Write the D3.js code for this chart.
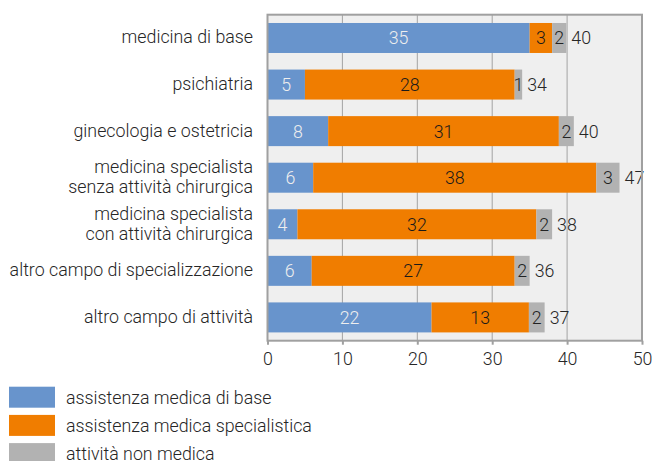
<!DOCTYPE html>
<html>
<head>
<meta charset="utf-8">
<script src="https://cdn.jsdelivr.net/npm/d3@7"></script>
<style>
  body { margin: 0; background: #fff; }
  svg { display: block; font-family: Roboto, "Noto Sans", sans-serif; font-weight: 300; }
</style>
</head>
<body>
<svg id="chart"></svg>
<script>
// categories, top to bottom (each entry = lines of the label)
const categories = [
  ["medicina di base"],
  ["psichiatria"],
  ["ginecologia e ostetricia"],
  ["medicina specialista", "senza attività chirurgica"],
  ["medicina specialista", "con attività chirurgica"],
  ["altro campo di specializzazione"],
  ["altro campo di attività"]
];
const seriesNames = ["assistenza medica di base", "assistenza medica specialistica", "attività non medica"];

// segment lengths
const base = [35.0, 5.0, 8.1, 6.1, 4.0, 5.9, 21.9];
const special = [3.0, 28.0, 30.8, 37.8, 31.9, 27.1, 13.0];
const nonMed = [1.9, 1.0, 2.0, 3.1, 2.1, 2.0, 2.1];

// printed (rounded) labels
const baseLbl = [35, 5, 8, 6, 4, 6, 22];
const specialLbl = [3, 28, 31, 38, 32, 27, 13];
const nonMedLbl = [2, 1, 2, 3, 2, 2, 2];
const totals = [40, 34, 40, 47, 38, 36, 37];

const xTicks = [0, 10, 20, 30, 40, 50];

const w = 652, h = 461;
const m = {left: 267.5, right: 10, top: 14.7, bottom: 120.3};
const colors = ["#6894cc", "#f07d00", "#b2b2b2"];
const txtCols = ["#eeeeee", "#1a1a1a", "#222222"];
const fs = 17.8;
const ink = "#262626";

const svg = d3.select("#chart").attr("width", w).attr("height", h);

const x = d3.scaleLinear().domain([0, 50]).range([m.left, w - m.right]);
const y = d3.scaleBand().domain(d3.range(categories.length))
  .range([m.top, h - m.bottom]).paddingInner(0.356).paddingOuter(0.178);

// plot background
svg.append("rect")
  .attr("x", x(0)).attr("y", m.top)
  .attr("width", x(50) - x(0)).attr("height", h - m.bottom - m.top)
  .attr("fill", "#efefef");

// vertical gridlines
svg.append("g").selectAll("line").data(xTicks.slice(1, -1)).join("line")
  .attr("x1", d => x(d)).attr("x2", d => x(d))
  .attr("y1", m.top).attr("y2", h - m.bottom)
  .attr("stroke", "#a3a3a3").attr("stroke-width", 1);

// stacked bars
const rows = categories.map((c, i) => {
  const vals = [base[i], special[i], nonMed[i]];
  const lbls = [baseLbl[i], specialLbl[i], nonMedLbl[i]];
  let acc = 0;
  return vals.map((v, k) => {
    const seg = {row: i, k, x0: acc, x1: acc + v, lbl: lbls[k]};
    acc += v;
    return seg;
  });
}).flat();

svg.append("g").selectAll("rect").data(rows).join("rect")
  .attr("x", d => x(d.x0))
  .attr("width", d => x(d.x1) - x(d.x0))
  .attr("y", d => y(d.row))
  .attr("height", y.bandwidth())
  .attr("fill", d => colors[d.k]);

svg.append("g").selectAll("text").data(rows).join("text")
  .attr("x", d => (x(d.x0) + x(d.x1)) / 2)
  .attr("y", d => y(d.row) + y.bandwidth() / 2)
  .attr("dy", "0.36em")
  .attr("text-anchor", "middle")
  .attr("font-size", fs)
  .attr("fill", d => txtCols[d.k])
  .text(d => d.lbl);

// totals
const ends = base.map((b, i) => b + special[i] + nonMed[i]);
svg.append("g").selectAll("text").data(totals).join("text")
  .attr("x", (d, i) => x(ends[i]) + 5)
  .attr("y", (d, i) => y(i) + y.bandwidth() / 2)
  .attr("dy", "0.36em")
  .attr("font-size", fs)
  .attr("fill", ink)
  .text(d => d);

// frame
svg.append("rect")
  .attr("x", x(0)).attr("y", m.top)
  .attr("width", x(50) - x(0)).attr("height", h - m.bottom - m.top)
  .attr("fill", "none").attr("stroke", "#a0a0a0").attr("stroke-width", 2);

// x axis
const xAxis = d3.axisBottom(x).tickValues(xTicks).tickSize(4).tickPadding(8);
const gx = svg.append("g").attr("transform", `translate(0,${h - m.bottom})`).call(xAxis);
gx.select(".domain").remove();
gx.selectAll(".tick line").attr("stroke", "#a0a0a0").attr("stroke-width", 2);
gx.selectAll(".tick text").attr("font-size", fs).attr("fill", ink)
  .attr("font-family", "Roboto, sans-serif").attr("font-weight", 300);

// category labels
const cat = svg.append("g").selectAll("text").data(categories).join("text")
  .attr("text-anchor", "end")
  .attr("font-size", fs)
  .attr("fill", ink)
  .attr("x", 253)
  .attr("y", (d, i) => y(i) + y.bandwidth() / 2);
cat.each(function(lines) {
  const t = d3.select(this);
  const lh = 20;
  lines.forEach((s, j) => {
    t.append("tspan")
      .attr("x", 253)
      .attr("dy", j === 0 ? (0.36 * fs - (lines.length - 1) * lh / 2 - 1) : lh)
      .text(s);
  });
});

// legend
const lg = svg.append("g").selectAll("g").data(seriesNames).join("g")
  .attr("transform", (d, i) => `translate(9,${386.7 + i * 28.2})`);
lg.append("rect").attr("width", 46).attr("height", 21)
  .attr("fill", (d, i) => colors[i]);
lg.append("text").attr("x", 57).attr("y", 10.5).attr("dy", "0.36em")
  .attr("font-size", fs).attr("fill", ink).text(d => d);
</script>
</body>
</html>
